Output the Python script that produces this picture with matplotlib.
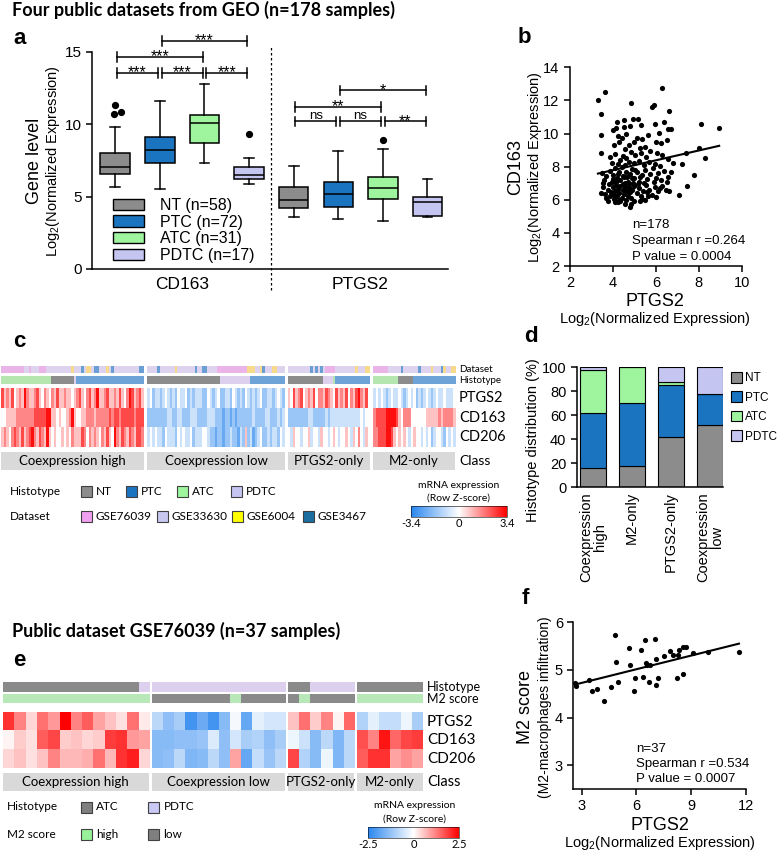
import numpy as np
import matplotlib
matplotlib.use('Agg')
import matplotlib.pyplot as plt
import matplotlib.cm as cm
from matplotlib.colors import LinearSegmentedColormap, ListedColormap, Normalize
from matplotlib.patches import Patch, Rectangle

plt.rcParams['font.family'] = ['Liberation Sans', 'DejaVu Sans']
plt.rcParams['axes.unicode_minus'] = False
plt.rcParams['mathtext.fontset'] = 'custom'
plt.rcParams['mathtext.rm'] = 'Liberation Sans'
plt.rcParams['mathtext.it'] = 'Liberation Sans:italic'

# ---------------- data ----------------
hist_names = ['NT', 'PTC', 'ATC', 'PDTC']
box_labels = ['NT (n=58)', 'PTC (n=72)', 'ATC (n=31)', 'PDTC (n=17)']
genes_a = ['CD163', 'PTGS2']
# whislo, q1, median, q3, whishi
cd163_box = [[5.65, 6.57, 7.05, 8.00, 9.84], [5.53, 7.30, 8.20, 9.10, 11.63],
             [7.33, 8.73, 10.09, 10.62, 12.79], [5.90, 6.20, 6.47, 7.07, 7.67]]
cd163_fliers = [[11.35, 10.70, 10.88], [], [], [9.33]]
ptgs2_box = [[3.59, 4.22, 4.77, 5.65, 7.14], [3.46, 4.29, 5.16, 5.99, 8.13],
             [3.32, 4.84, 5.62, 6.34, 8.32], [3.62, 3.69, 4.65, 4.95, 6.22]]
ptgs2_fliers = [[], [], [8.92], []]
# (group i, group j, bracket height, label)
sig_a = [(1, 2, 13.55, '***'), (2, 3, 13.55, '***'), (3, 4, 13.55, '***'),
         (1, 3, 14.65, '***'), (2, 4, 15.76, '***'),
         (5, 6, 10.2, 'ns'), (6, 7, 10.2, 'ns'), (7, 8, 10.2, '**'),
         (5, 7, 11.2, '**'), (6, 8, 12.35, '*')]

b_ptgs2 = [3.30, 3.65, 3.45, 3.45, 3.45, 4.85, 6.30, 5.90, 5.80, 6.60,
           4.20, 4.50, 4.15, 4.50, 4.95, 5.15, 4.80, 5.30, 5.95, 6.40,
           6.55, 6.70, 4.00, 4.25, 4.40, 4.60, 5.10, 5.35, 5.65, 6.15,
           6.50, 4.05, 4.30, 4.75, 5.00, 5.50, 6.00, 6.25, 4.55, 5.25,
           3.85, 4.10, 4.35, 4.60, 4.85, 5.05, 5.30, 5.55, 5.75, 6.05,
           6.30, 6.55, 6.80, 3.95, 4.25, 4.55, 4.75, 5.00, 5.20, 5.45,
           5.70, 5.95, 6.20, 7.20, 7.40, 8.00, 8.10, 8.30, 8.95, 4.45,
           3.50, 3.70, 3.85, 4.00, 4.10, 4.20, 4.30, 4.40, 4.50, 4.60,
           4.70, 4.80, 4.90, 5.00, 5.10, 5.20, 5.35, 5.50, 5.60, 5.75,
           5.85, 6.00, 6.10, 6.25, 6.40, 6.55, 6.70, 3.60, 3.95, 4.15,
           4.35, 4.55, 4.95, 5.45, 5.90, 6.50, 7.80, 4.25, 4.65, 5.05,
           3.45, 3.55, 3.65, 3.75, 3.80, 3.90, 4.00, 4.05, 4.10, 4.15,
           4.20, 4.25, 4.30, 4.35, 4.40, 4.45, 4.50, 4.55, 4.60, 4.65,
           4.70, 4.75, 4.80, 4.85, 4.90, 5.00, 5.10, 5.20, 5.30, 5.40,
           5.55, 5.70, 5.80, 5.95, 6.10, 6.30, 6.45, 6.60, 7.10, 7.45,
           3.70, 4.05, 4.45, 4.75, 5.15, 5.35, 5.65, 6.00,
           3.75, 4.10, 4.35, 4.55, 4.80, 4.85, 5.00, 5.25, 5.50, 4.25,
           3.55, 3.85, 4.00, 4.30, 4.45, 4.70, 4.90, 5.25, 5.60, 6.20]
b_cd163 = [12.0, 12.5, 11.2, 9.9, 8.85, 11.85, 12.75, 11.75, 11.6, 11.35,
           10.7, 10.8, 10.35, 10.4, 10.9, 10.85, 10.45, 10.5, 10.6, 10.7,
           10.25, 10.25, 10.2, 9.85, 9.75, 10.0, 9.75, 9.65, 9.9, 10.05,
           9.6, 9.3, 9.5, 9.3, 9.5, 9.2, 9.5, 9.4, 9.05, 9.1,
           8.6, 8.75, 8.4, 8.55, 8.9, 8.7, 8.85, 8.6, 8.95, 8.8,
           8.7, 8.45, 8.25, 8.25, 8.15, 8.1, 8.3, 8.2, 8.35, 8.1,
           8.3, 8.15, 8.05, 8.15, 8.8, 9.1, 10.55, 8.55, 10.35, 8.65,
           7.6, 7.45, 7.75, 7.5, 7.9, 7.3, 7.65, 7.95, 7.4, 7.7,
           7.1, 7.55, 7.85, 7.3, 7.65, 7.05, 7.5, 7.8, 7.25, 7.55,
           7.9, 7.3, 7.6, 7.2, 7.75, 7.4, 7.65, 7.2, 7.1, 7.05,
           7.2, 7.0, 7.0, 7.0, 7.05, 7.1, 7.5, 7.55, 7.35, 7.8,
           6.4, 6.8, 6.35, 6.6, 6.95, 6.45, 6.75, 6.3, 6.55, 6.9,
           6.2, 6.65, 6.4, 6.85, 6.1, 6.6, 6.35, 6.8, 6.0, 6.5,
           6.25, 6.75, 6.45, 6.1, 6.6, 6.85, 6.4, 6.7, 6.25, 6.55,
           6.9, 6.6, 6.3, 6.8, 6.5, 6.85, 6.6, 6.55, 6.3, 6.85,
           6.1, 6.05, 6.95, 6.95, 6.95, 6.05, 6.25, 6.15,
           5.9, 5.85, 5.95, 5.75, 5.55, 5.75, 5.9, 5.95, 6.0, 5.85,
           7.0, 6.25, 7.25, 6.0, 7.45, 6.55, 7.3, 7.35, 6.45, 6.7]
b_fit = [0.297, 6.60]  # slope, intercept
b_stats = ['n=178', 'Spearman r =0.264', 'P value = 0.0004']

# panel c: classes, annotation runs (code, count), expression levels 0..8 (4 = 0)
c_classes = ['Coexpression high', 'Coexpression low', 'PTGS2-only', 'M2-only']
dataset_names = ['GSE76039', 'GSE33630', 'GSE6004', 'GSE3467']
c_dataset_runs = [
    [(0, 9), (1, 2), (0, 1), (1, 3), (0, 3), (1, 10), (2, 1), (1, 3), (3, 1), (1, 1),
     (2, 2), (1, 1), (3, 2), (1, 3), (2, 1), (1, 1), (3, 1), (1, 10), (3, 2)],
    [(1, 4), (3, 1), (1, 6), (2, 1), (1, 7), (3, 1), (1, 2), (3, 2), (1, 4), (0, 12),
     (2, 3), (1, 2), (2, 1), (3, 1), (1, 3), (2, 2), (1, 3)],
    [(1, 9), (3, 1), (1, 1), (3, 1), (1, 1), (3, 1), (1, 1), (0, 4), (1, 8), (2, 1),
     (1, 3), (2, 2)],
    [(0, 6), (1, 5), (3, 1), (1, 6), (3, 1), (1, 4), (2, 1), (1, 3), (3, 1), (2, 1),
     (1, 2), (2, 2)]]
c_hist_runs = [[(2, 20), (0, 9), (3, 1), (1, 27)],
               [(0, 29), (3, 12), (1, 14)],
               [(0, 14), (3, 4), (2, 1), (1, 14)],
               [(2, 10), (0, 6), (1, 17)]]
c_ptgs2 = ['7565745658' '6556754654' '6575565545' '6754675685' '5675565754' '6875675',
           '3423323432' '3243342323' '3322432342' '2332432324' '3232342233' '23432',
           '5475674565' '7466576547' '5657465786' '574',
           '3434323433' '4323434232' '3432343343' '334']
c_cd163 = ['4455556666' '6667777788' '5545445685' '4455666566' '6667677677' '7776777',
           '2222222233' '2233222333' '2222333222' '1221212222' '2232222332' '22323',
           '2222222233' '2222232333' '3333333334' '344',
           '6777788887' '5466644444' '4555556566' '665']
c_cd206 = ['5654676575' '6786576585' '4544545465' '5576465654' '6575486576' '5765776',
           '3434332433' '3243433423' '3344322122' '1223221325' '2312342232' '33243',
           '4354434453' '4435443454' '3445435464' '354',
           '6677788754' '5454345443' '4342344324' '343']
c_level_step = 0.8
c_lim = 3.4

# panel d: histotype distribution (%) per class
d_classes = ['Coexpression\nhigh', 'M2-only', 'PTGS2-only', 'Coexpression\nlow']
d_nt = [16, 18, 42, 52]
d_ptc = [46, 52, 43, 26]
d_atc = [36, 30, 3, 0]
d_pdtc = [2, 0, 12, 22]

# panel e
e_classes = ['Coexpression high', 'Coexpression low', 'PTGS2-only', 'M2-only']
e_hist_runs = [[(0, 12), (1, 1)], [(1, 12)], [(0, 2), (1, 4)], [(0, 6)]]   # 0 ATC, 1 PDTC
e_m2_runs = [[(0, 13)], [(1, 7), (0, 1), (1, 4)], [(1, 1), (0, 1), (1, 4)], [(0, 6)]]  # 0 high, 1 low
e_ptgs2 = [[2.0, 1.2, 0.4, 1.4, 1.0, 2.5, 1.2, 1.6, 0.9, 0.6, 0.3, 1.4, 0.2],
           [-0.8, -1.3, -1.0, -2.2, -1.7, -2.2, -1.4, -0.1, -1.8, -0.3, -0.5, -0.5],
           [0.6, 1.4, 0.5, 1.2, 0.1, 1.5],
           [-0.9, -0.3, -0.7, -0.7, -0.2, -1.0]]
e_cd163 = [[0.1, 0.5, 0.3, 1.6, 1.8, 0.5, 0.6, 0.4, 0.5, 1.9, 2.0, 1.0, 0.9],
           [-1.4, -1.4, -1.3, -1.3, -1.2, -0.4, -1.3, -0.5, -1.0, -0.9, -1.3, -1.0],
           [-0.2, -0.6, -1.4, -0.8, -1.5, -0.8],
           [1.7, 1.2, 2.3, 1.5, 1.8, 1.9]]
e_cd206 = [[0.4, 0.6, 0.3, 0.6, 1.2, 0.7, 0.7, 0.8, 1.4, 0.7, 2.0, 2.2, 0.4],
           [-1.4, -1.3, -0.8, -1.5, -1.4, -0.8, -1.3, 0.9, -1.8, -0.7, -1.2, -0.8],
           [1.8, -0.9, -1.4, -0.2, -1.5, -0.8],
           [1.6, 2.0, 2.0, 0.9, 1.1, 0.9]]
e_lim = 2.5

f_ptgs2 = [2.64, 2.71, 3.40, 3.58, 3.87, 4.22, 4.62, 4.84, 4.89, 4.99,
           5.62, 5.66, 5.86, 5.91, 6.24, 6.37, 6.46, 6.51, 6.59, 6.70,
           6.75, 7.03, 7.10, 7.10, 7.21, 7.52, 7.83, 7.99, 8.23, 8.30,
           8.37, 8.56, 8.57, 8.74, 9.10, 9.92, 11.63]
f_m2 = [4.72, 4.67, 4.79, 4.55, 4.60, 4.34, 4.65, 5.73, 5.17, 4.75,
        5.47, 5.10, 4.56, 4.84, 5.42, 4.85, 5.63, 5.15, 5.10, 4.74,
        5.10, 5.65, 4.69, 5.23, 4.83, 5.30, 5.40, 5.32, 4.84, 5.32,
        5.42, 4.91, 5.48, 5.48, 5.35, 5.38, 5.38]
f_fit = [0.0956, 4.44]
f_stats = ['n=37', 'Spearman r =0.534', 'P value = 0.0007']

# ---------------- style ----------------
hist_colors = ['#8c8c8c', '#1a74c0', '#9ef59e', '#c5c5f2']
hist_bar_colors = ['#8c8c8c', '#6ea3d8', '#b6e6b0', '#ddd0ee']
dataset_colors = ['#f0a0f0', '#c8c8f0', '#ffff00', '#1a6fa0']
dataset_bar_colors = ['#eab4e8', '#ddd3ee', '#f7da8c', '#6a9fd6']
cmap_z = LinearSegmentedColormap.from_list('z', ['#2a86ef', '#ffffff', '#ff0000'])
HEAT_FONT = ['Lato', 'DejaVu Sans']

W, H = 778, 850
fig = plt.figure(figsize=(W / 100, H / 100), dpi=100)

# overlay in pixel coordinates for free text and legends (drawn on top)
ov = fig.add_axes([0, 0, 1, 1])
ov.set_xlim(0, W)
ov.set_ylim(H, 0)
ov.set_axis_off()
ov.set_zorder(10)


def ax_px(l, t, r, b):
    return fig.add_axes([l / W, 1 - b / H, (r - l) / W, (b - t) / H])


def plain_axes(ax):
    for s in ['top', 'right']:
        ax.spines[s].set_visible(False)
    for s in ['left', 'bottom']:
        ax.spines[s].set_linewidth(1.1)
    ax.tick_params(width=1.1, length=4, labelsize=10.5)


def expand(runs):
    return np.concatenate([np.full(n, code) for code, n in runs])


def strip(l, r, t, b, codes, colors):
    a = ax_px(l, t, r, b)
    a.imshow(np.asarray(codes)[None, :], cmap=ListedColormap(colors), vmin=-0.5,
             vmax=len(colors) - 0.5, aspect='auto', interpolation='nearest')
    a.set_axis_off()


def heat(l, r, t, b, z, lim):
    a = ax_px(l, t, r, b)
    a.imshow(z, cmap=cmap_z, vmin=-lim, vmax=lim, aspect='auto', interpolation='nearest')
    a.set_axis_off()


def class_box(l, r, t, b, text):
    a = ax_px(l, t, r, b)
    a.set_facecolor('#d9d9d9')
    a.set_xticks([])
    a.set_yticks([])
    for s in a.spines.values():
        s.set_visible(False)
    a.text(0.5, 0.48, text, ha='center', va='center', fontsize=9.5, family=HEAT_FONT)


def swatch(x, y, color, label):
    ov.add_patch(Rectangle((x, y - 5.5), 11, 11, facecolor=color, edgecolor='#404040', lw=0.8))
    ov.text(x + 15, y, label, va='center', ha='left', fontsize=8.5, family=HEAT_FONT)


def zbar(l, t, r, b, lim):
    cax = ax_px(l, t, r, b)
    cb = fig.colorbar(cm.ScalarMappable(Normalize(-lim, lim), cmap_z), cax=cax,
                      orientation='horizontal', ticks=[-lim, 0, lim])
    cb.outline.set_linewidth(0.4)
    cax.tick_params(length=0, labelsize=8, pad=1)
    cax.set_xticklabels([f'{-lim:g}', '0', f'{lim:g}'], family=HEAT_FONT)


# ---------------- titles and panel letters ----------------
ov.text(12, 10, 'Four public datasets from GEO (n=178 samples)', fontsize=13, weight='bold',
        family=HEAT_FONT, va='center')
ov.text(12, 631, 'Public dataset GSE76039 (n=37 samples)', fontsize=13, weight='bold',
        family=HEAT_FONT, va='center')
for lab, x, y in [('a', 13, 38), ('b', 518, 37), ('c', 13, 341), ('d', 524, 337),
                  ('e', 13, 660), ('f', 522, 598)]:
    ov.text(x, y, lab, fontsize=16, weight='bold', va='center', ha='left')

# ---------------- panel a ----------------
ax = ax_px(92, 34.6, 448, 269)
pos = np.arange(1, 9)
stats = [dict(whislo=lo, q1=q1, med=md, q3=q3, whishi=hi, fliers=[])
         for lo, q1, md, q3, hi in cd163_box + ptgs2_box]
bp = ax.bxp(stats, positions=pos, widths=0.66, patch_artist=True, showfliers=False,
            capwidths=0.22, boxprops=dict(linewidth=1.1, edgecolor='black'),
            medianprops=dict(color='black', linewidth=1.1),
            whiskerprops=dict(linewidth=1.1), capprops=dict(linewidth=1.1))
for patch, c in zip(bp['boxes'], hist_colors * 2):
    patch.set_facecolor(c)
flier_dx = [[0.0, -0.02, 0.13], [], [], [0.0], [], [], [0.0], []]
for p, vals, dx in zip(pos, cd163_fliers + ptgs2_fliers, flier_dx):
    if vals:
        ax.plot(p + np.array(dx), vals, 'o', color='black', ms=4.2)
for x1, x2, y, lab in sig_a:
    a0, a1 = x1 + 0.04, x2 - 0.04
    ax.plot([a0, a1], [y, y], color='black', lw=1.1)
    ax.plot([a0, a0], [y - 0.33, y + 0.33], color='black', lw=1.1)
    ax.plot([a1, a1], [y - 0.33, y + 0.33], color='black', lw=1.1)
    if lab == 'ns':
        ax.text((a0 + a1) / 2, y + 0.2, lab, ha='center', va='baseline', fontsize=9.5)
    else:
        ax.text((a0 + a1) / 2, y - 0.3, lab, ha='center', va='baseline', fontsize=11.5)
ax.axvline(4.5, ymin=-0.09, ymax=0.955, ls=(0, (2, 2)), color='black', lw=0.9, clip_on=False)
ax.set_xlim(0.48, 8.46)
ax.set_ylim(0, 16.2)
ax.set_yticks([0, 5, 10, 15])
ax.set_xticks([2.5, 6.5])
ax.set_xticklabels(genes_a)
plain_axes(ax)
ax.spines['left'].set_bounds(0, 15)
ax.tick_params(axis='x', length=0, labelsize=12.5, pad=6)
ax.tick_params(axis='y', labelsize=11)
ax.legend([Patch(facecolor=c, edgecolor='black', lw=1) for c in hist_colors], box_labels,
          loc='lower left', bbox_to_anchor=(0.02, -0.035), frameon=False, fontsize=11.5,
          handlelength=1.9, handleheight=0.7, labelspacing=0.1, handletextpad=1.0)
ov.text(35, 161, 'Gene level', rotation=90, ha='center', va='center', fontsize=13)
ov.text(53, 161, 'Log$_2$(Normalized Expression)', rotation=90, ha='center', va='center', fontsize=10.5)

# ---------------- panel b ----------------
axb = ax_px(570, 67.3, 741.7, 266)
axb.scatter(b_ptgs2, b_cd163, s=14, color='black', lw=0, clip_on=False)
xs = np.array([min(b_ptgs2), max(b_ptgs2)])
axb.plot(xs, b_fit[0] * xs + b_fit[1], color='black', lw=1.5)
axb.set_xlim(2, 10)
axb.set_ylim(2, 14)
axb.set_xticks(range(2, 11, 2))
axb.set_yticks(range(2, 15, 2))
plain_axes(axb)
for i, s in enumerate(b_stats):
    ov.text(632, 225 + 16 * i, s, fontsize=9.5, va='center')
ov.text(516, 167, 'CD163', rotation=90, ha='center', va='center', fontsize=13)
ov.text(535, 167, 'Log$_2$(Normalized Expression)', rotation=90, ha='center', va='center', fontsize=10.5)
ov.text(655, 301, 'PTGS2', ha='center', va='center', fontsize=13)
ov.text(655, 319, 'Log$_2$(Normalized Expression)', ha='center', va='center', fontsize=10.5)

# ---------------- panel c ----------------
c_px = [(1, 144), (147, 285), (288, 370), (373, 455)]
for g, (l, r) in enumerate(c_px):
    strip(l, r, 365.7, 373.3, expand(c_dataset_runs[g]), dataset_bar_colors)
    strip(l, r, 376.3, 383.7, expand(c_hist_runs[g]), hist_bar_colors)
    lev = np.array([[int(ch) for ch in rows[g]] for rows in (c_ptgs2, c_cd163, c_cd206)])
    heat(l, r, 388.3, 446.7, (lev - 4) * c_level_step, c_lim)
    class_box(l, r, 451.7, 470, c_classes[g])
for txt, y, fs in [('Dataset', 369.5, 7), ('Histotype', 380, 7), ('PTGS2', 398, 10.5),
                   ('CD163', 417.5, 10.5), ('CD206', 437, 10.5), ('Class', 461, 10)]:
    ov.text(459, y, txt, va='center', ha='left', fontsize=fs, family=HEAT_FONT)
ov.text(10, 491, 'Histotype', va='center', fontsize=8.5, family=HEAT_FONT)
ov.text(10, 516, 'Dataset', va='center', fontsize=8.5, family=HEAT_FONT)
for x, c, n in zip([81, 125.7, 176.7, 231], hist_colors, hist_names):
    swatch(x, 491, c, n)
for x, c, n in zip([81, 156.7, 232, 303], dataset_colors, dataset_names):
    swatch(x, 516, c, n)
ov.text(459, 485, 'mRNA expression', ha='center', va='center', fontsize=7.5, family=HEAT_FONT)
ov.text(459, 498, '(Row Z-score)', ha='center', va='center', fontsize=7.5, family=HEAT_FONT)
zbar(411, 506, 507, 517, c_lim)

# ---------------- panel d ----------------
axd = ax_px(576.7, 367.3, 723, 487.3)
bottom = np.zeros(len(d_classes))
for vals, c in zip([d_nt, d_ptc, d_atc, d_pdtc], hist_colors):
    axd.bar(range(len(d_classes)), vals, bottom=bottom, width=0.67, color=c,
            edgecolor='black', lw=0.8)
    bottom += np.array(vals)
axd.set_xlim(-0.42, 3.33)
axd.set_ylim(0, 100)
axd.set_yticks(range(0, 101, 20))
axd.set_xticks(range(len(d_classes)))
axd.set_xticklabels(d_classes, rotation=90, fontsize=9.5, linespacing=0.95)
plain_axes(axd)
axd.tick_params(axis='x', length=0)
ov.text(533, 440, 'Histotype distribution (%)', rotation=90, ha='center', va='center', fontsize=10.5)
axd.legend([Patch(facecolor=c, edgecolor='black', lw=0.8) for c in hist_colors], hist_names,
           loc='upper left', bbox_to_anchor=(1.0, 1.03), frameon=False, fontsize=8.5,
           handlelength=0.9, handleheight=1.0, labelspacing=0.6, handletextpad=0.3,
           borderaxespad=0.3)

# ---------------- panel e ----------------
e_px = [(2.7, 149), (151.7, 285), (287.7, 354.3), (357, 423)]
for g, (l, r) in enumerate(e_px):
    strip(l, r, 681.7, 691.7, expand(e_hist_runs[g]), ['#8a8a8a', '#ddd0ee'])
    strip(l, r, 694, 703.3, expand(e_m2_runs[g]), ['#b8e8b8', '#8a8a8a'])
    heat(l, r, 712.3, 768.3, np.array([e_ptgs2[g], e_cd163[g], e_cd206[g]]), e_lim)
    class_box(l, r, 773.3, 790.7, e_classes[g])
for txt, y, fs in [('Histotype', 686.7, 9), ('M2 score', 698.7, 9), ('PTGS2', 722, 11),
                   ('CD163', 740.5, 11), ('CD206', 759, 11), ('Class', 782, 10.5)]:
    ov.text(427, y, txt, va='center', ha='left', fontsize=fs, family=HEAT_FONT)
ov.text(7, 807, 'Histotype', va='center', fontsize=8.5, family=HEAT_FONT)
ov.text(7, 834.7, 'M2 score', va='center', fontsize=8.5, family=HEAT_FONT)
swatch(81, 807, '#7f7f7f', 'ATC')
swatch(148.5, 807, '#c8c8f4', 'PDTC')
swatch(81, 834.7, '#98f098', 'high')
swatch(148.5, 834.7, '#7f7f7f', 'low')
ov.text(415, 806, 'mRNA expression', ha='center', va='center', fontsize=7.5, family=HEAT_FONT)
ov.text(415, 819.5, '(Row Z-score)', ha='center', va='center', fontsize=7.5, family=HEAT_FONT)
zbar(368, 827, 459, 838, e_lim)

# ---------------- panel f ----------------
axf = ax_px(573.3, 622.3, 745.7, 789)
axf.scatter(f_ptgs2, f_m2, s=14, color='black', lw=0, clip_on=False)
xs = np.array([min(f_ptgs2), max(f_ptgs2)])
axf.plot(xs, f_fit[0] * xs + f_fit[1], color='black', lw=1.5)
axf.set_xlim(2.55, 12)
axf.set_ylim(2.5, 6)
axf.set_xticks([3, 6, 9, 12])
axf.set_yticks([3, 4, 5, 6])
plain_axes(axf)
for i, s in enumerate(f_stats):
    ov.text(636, 749 + 15 * i, s, fontsize=9.5, va='center')
ov.text(526, 707, 'M2 score', rotation=90, ha='center', va='center', fontsize=13)
ov.text(545, 707, '(M2-macrophages infiltration)', rotation=90, ha='center', va='center', fontsize=10)
ov.text(660, 825, 'PTGS2', ha='center', va='center', fontsize=13)
ov.text(660, 842.5, 'Log$_2$(Normalized Expression)', ha='center', va='center', fontsize=10.5)

fig.savefig('out.png', dpi=100)
